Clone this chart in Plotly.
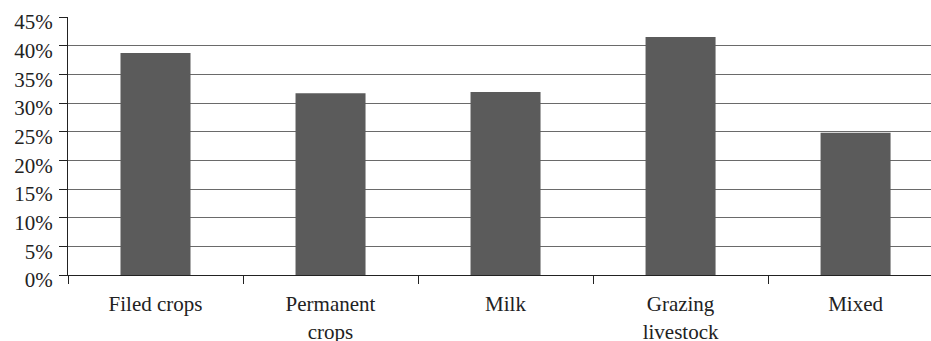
import plotly.graph_objects as go

# Share of farms by farm type
categories = ["Filed crops", "Permanent<br>crops", "Milk", "Grazing<br>livestock", "Mixed"]
shares = [38.7, 31.7, 31.9, 41.5, 24.8]

fig = go.Figure(
    go.Bar(
        x=categories,
        y=shares,
        width=0.4,
        marker=dict(color="#5b5b5b", line=dict(width=0)),
    )
)

font = dict(family="'Liberation Serif', 'Times New Roman', serif", size=21, color="#222")

fig.update_layout(
    width=931,
    height=341,
    margin=dict(l=68, r=0, t=17, b=66, pad=0),
    paper_bgcolor="white",
    plot_bgcolor="white",
    showlegend=False,
    font=font,
    bargap=0.6,
)

fig.update_yaxes(
    range=[0, 45],
    dtick=5,
    tick0=0,
    ticksuffix="%",
    automargin=False,
    showgrid=True,
    gridcolor="#6a6a6a",
    gridwidth=1,
    zeroline=False,
    showline=True,
    linecolor="#222",
    linewidth=1,
    ticks="outside",
    ticklen=8,
    tickcolor="#222",
    ticklabelstandoff=2,
    ticklabelshift=5,
    tickfont=font,
)

fig.update_xaxes(
    type="category",
    range=[-0.5, 4.431],
    automargin=False,
    showgrid=False,
    showline=True,
    linecolor="#222",
    linewidth=1,
    ticks="outside",
    tickson="boundaries",
    ticklen=8,
    tickcolor="#222",
    ticklabelstandoff=10,
    tickfont=font,
)

fig.write_html("out.html")
